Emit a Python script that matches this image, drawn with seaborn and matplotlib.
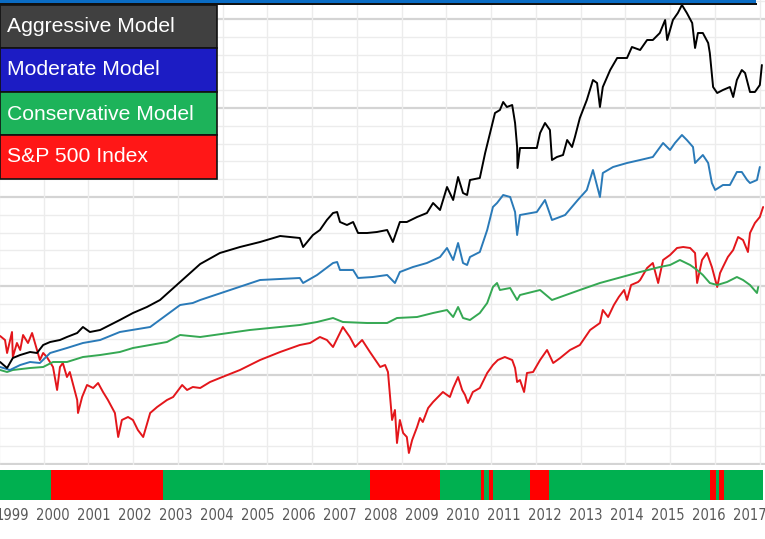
import numpy as np
import pandas as pd
import seaborn as sns
import matplotlib.pyplot as plt
from matplotlib.patches import Rectangle

W, H = 765, 539

# ---- data (decimal year, index level) ----
aggr_t = [1998.71, 1998.88, 1999.02, 1999.20, 1999.44, 1999.61, 1999.76, 1999.93, 2000.17, 2000.34,
          2000.59, 2000.73, 2000.90, 2001.15, 2001.39, 2001.63, 2001.95, 2002.29, 2002.61, 2003.10,
          2003.59, 2004.07, 2004.56, 2005.05, 2005.54, 2006.02, 2006.10, 2006.34, 2006.51, 2006.68,
          2006.83, 2006.93, 2007.00, 2007.17, 2007.32, 2007.44, 2007.66, 2007.90, 2008.15, 2008.29,
          2008.46, 2008.63, 2008.88, 2009.12, 2009.27, 2009.44, 2009.61, 2009.76, 2009.88, 2010.00,
          2010.10, 2010.17, 2010.41, 2010.54, 2010.66, 2010.78, 2010.90, 2010.98, 2011.07, 2011.20,
          2011.27, 2011.32, 2011.33, 2011.39, 2011.80, 2011.88, 2012.00, 2012.12, 2012.17, 2012.29,
          2012.44, 2012.54, 2012.66, 2012.73, 2012.85, 2013.02, 2013.17, 2013.27, 2013.34, 2013.41,
          2013.59, 2013.76, 2014.00, 2014.12, 2014.32, 2014.49, 2014.63, 2014.80, 2014.93, 2014.98,
          2015.12, 2015.24, 2015.34, 2015.46, 2015.59, 2015.66, 2015.73, 2015.85, 2015.98, 2016.02,
          2016.10, 2016.20, 2016.34, 2016.51, 2016.59, 2016.68, 2016.80, 2016.88, 2017.00, 2017.12,
          2017.24, 2017.29]
aggr_v = [103, 97, 107, 110, 113, 112, 120, 123, 125, 128,
          132, 138, 133, 135, 140, 145, 152, 158, 165, 183,
          201, 212, 218, 223, 229, 227, 218, 230, 235, 245,
          252, 253, 243, 240, 243, 232, 232, 233, 235, 223,
          243, 243, 248, 252, 262, 255, 278, 265, 288, 272,
          270, 285, 287, 312, 332, 352, 355, 363, 358, 360,
          342, 318, 297, 317, 317, 332, 342, 335, 305, 308,
          310, 325, 318, 328, 347, 365, 385, 382, 358, 378,
          395, 407, 407, 418, 415, 425, 425, 432, 445, 425,
          445, 452, 460, 452, 442, 417, 432, 432, 422, 412,
          378, 372, 375, 378, 368, 385, 395, 392, 373, 373,
          380, 400]

mod_t = [1998.71, 1998.95, 1999.20, 1999.44, 1999.68, 1999.93, 2000.34, 2000.73, 2001.15, 2001.63,
         2002.37, 2003.10, 2003.41, 2003.59, 2004.32, 2005.05, 2006.02, 2006.10, 2006.44, 2006.83,
         2006.93, 2007.00, 2007.32, 2007.44, 2007.80, 2008.15, 2008.34, 2008.46, 2008.78, 2009.12,
         2009.44, 2009.61, 2009.76, 2009.88, 2010.00, 2010.10, 2010.17, 2010.41, 2010.59, 2010.73,
         2010.83, 2010.98, 2011.15, 2011.27, 2011.32, 2011.39, 2011.80, 2012.00, 2012.17, 2012.49,
         2012.80, 2013.02, 2013.17, 2013.34, 2013.41, 2013.66, 2014.00, 2014.32, 2014.63, 2014.88,
         2015.05, 2015.17, 2015.34, 2015.46, 2015.61, 2015.66, 2015.85, 2015.98, 2016.07, 2016.15,
         2016.34, 2016.51, 2016.68, 2016.80, 2016.93, 2017.00, 2017.17, 2017.24]
mod_v = [98, 95, 100, 103, 102, 112, 117, 122, 125, 133,
         138, 160, 162, 165, 175, 185, 187, 182, 190, 202,
         203, 195, 195, 187, 188, 190, 182, 193, 198, 202,
         208, 217, 205, 222, 202, 200, 208, 213, 235, 258,
         262, 270, 268, 253, 230, 250, 253, 265, 245, 250,
         265, 275, 295, 268, 292, 298, 302, 305, 308, 322,
         315, 322, 330, 325, 318, 302, 310, 302, 282, 275,
         280, 280, 293, 293, 285, 282, 285, 298]

cons_t = [1998.71, 1998.88, 1999.02, 1999.44, 1999.76, 2000.00, 2000.34, 2000.73, 2001.15, 2001.63,
          2001.95, 2002.78, 2003.10, 2003.59, 2004.80, 2006.02, 2006.44, 2006.83, 2007.07, 2007.66,
          2008.15, 2008.39, 2008.88, 2009.27, 2009.61, 2009.76, 2009.88, 2010.00, 2010.17, 2010.41,
          2010.59, 2010.73, 2010.83, 2010.90, 2011.15, 2011.32, 2011.39, 2011.88, 2012.17, 2012.85,
          2013.34, 2014.32, 2014.80, 2015.05, 2015.29, 2015.54, 2015.71, 2015.85, 2016.02, 2016.20,
          2016.44, 2016.68, 2016.83, 2017.00, 2017.17, 2017.20]
cons_v = [95, 93, 95, 97, 98, 103, 103, 108, 110, 113,
          117, 123, 130, 128, 135, 140, 143, 147, 143, 142,
          142, 147, 148, 152, 155, 148, 158, 147, 145, 152,
          162, 178, 182, 175, 177, 165, 170, 175, 165, 175,
          182, 193, 198, 200, 205, 200, 195, 190, 182, 180,
          183, 188, 185, 180, 172, 178]

spx_t = [1998.71, 1998.83, 1998.88, 1999.00, 1999.02, 1999.12, 1999.20, 1999.27, 1999.39, 1999.49,
         1999.61, 1999.68, 1999.76, 1999.85, 2000.00, 2000.10, 2000.17, 2000.24, 2000.34, 2000.41,
         2000.59, 2000.61, 2000.71, 2000.83, 2000.98, 2001.10, 2001.22, 2001.34, 2001.51, 2001.59,
         2001.68, 2001.83, 2001.95, 2002.07, 2002.20, 2002.37, 2002.54, 2002.78, 2002.93, 2003.15,
         2003.27, 2003.41, 2003.59, 2003.83, 2004.07, 2004.56, 2005.05, 2005.54, 2006.02, 2006.27,
         2006.51, 2006.68, 2006.83, 2007.07, 2007.24, 2007.37, 2007.54, 2007.73, 2007.98, 2008.10,
         2008.17, 2008.27, 2008.34, 2008.39, 2008.46, 2008.54, 2008.63, 2008.68, 2008.76, 2008.88,
         2008.95, 2009.02, 2009.15, 2009.27, 2009.39, 2009.51, 2009.68, 2009.76, 2009.88, 2009.98,
         2010.05, 2010.12, 2010.24, 2010.41, 2010.59, 2010.73, 2010.85, 2011.02, 2011.20, 2011.27,
         2011.32, 2011.39, 2011.49, 2011.56, 2011.71, 2011.88, 2012.05, 2012.20, 2012.37, 2012.61,
         2012.85, 2013.10, 2013.34, 2013.41, 2013.54, 2013.68, 2013.80, 2013.93, 2014.00, 2014.10,
         2014.27, 2014.32, 2014.49, 2014.63, 2014.76, 2014.88, 2015.05, 2015.22, 2015.37, 2015.54,
         2015.66, 2015.71, 2015.83, 2015.95, 2016.07, 2016.20, 2016.27, 2016.34, 2016.46, 2016.59,
         2016.71, 2016.83, 2016.95, 2017.00, 2017.12, 2017.24, 2017.32]
spx_v = [129, 125, 112, 133, 108, 122, 115, 130, 122, 132,
         115, 105, 112, 108, 98, 75, 98, 102, 88, 93,
         65, 52, 68, 80, 77, 82, 73, 65, 52, 28,
         45, 48, 45, 35, 28, 52, 58, 65, 68, 80,
         75, 78, 77, 83, 87, 95, 105, 113, 120, 122,
         128, 125, 118, 138, 128, 118, 125, 113, 98, 100,
         93, 45, 55, 22, 45, 32, 28, 12, 25, 38,
         47, 43, 57, 63, 68, 73, 68, 77, 88, 75,
         70, 62, 73, 77, 92, 100, 105, 108, 105, 97,
         83, 85, 73, 92, 93, 105, 115, 102, 107, 115,
         120, 135, 142, 155, 148, 160, 168, 175, 165, 180,
         183, 185, 197, 202, 182, 205, 210, 217, 218, 217,
         212, 182, 205, 212, 198, 178, 192, 198, 208, 215,
         228, 225, 213, 232, 242, 248, 258]

# risk-off (red) periods in the regime strip
risk_off_start = [1999.95, 2007.73, 2010.44, 2010.63, 2011.63, 2016.02, 2016.24]
risk_off_end = [2002.68, 2009.44, 2010.51, 2010.73, 2012.10, 2016.17, 2016.37]
strip_start, strip_end = 1998.71, 2017.32

years = list(range(1999, 2018))
labels = ["Aggressive Model", "Moderate Model", "Conservative Model", "S&P 500 Index"]
line_colors = ["#000000", "#2a7ab8", "#35a853", "#e3161b"]
box_colors = ["#404040", "#1c1cc4", "#1db35a", "#ff1717"]

df = pd.concat([
    pd.DataFrame({"year": aggr_t, "level": aggr_v, "model": labels[0]}),
    pd.DataFrame({"year": mod_t, "level": mod_v, "model": labels[1]}),
    pd.DataFrame({"year": cons_t, "level": cons_v, "model": labels[2]}),
    pd.DataFrame({"year": spx_t, "level": spx_v, "model": labels[3]}),
], ignore_index=True)

sns.set_theme(style="white")
plt.rcParams["font.family"] = ["Liberation Sans", "DejaVu Sans"]

fig = plt.figure(figsize=(W / 100, H / 100), dpi=100)

# one year is ~41 px wide, Jan 1999 sits 12 px from the left edge
x0 = 1999 - 12 / 41
x1 = x0 + W / 41
plot_bottom = 465

# background grid (pixel-style coordinates)
axg = fig.add_axes([0, 1 - plot_bottom / H, 1, plot_bottom / H])
axg.set_xlim(0, W)
axg.set_ylim(plot_bottom, 0)
axg.axis("off")
for k in range(-1, 27):
    yy = 19 + 17.8 * k
    major = k % 5 == 0
    axg.axhline(yy, color="#d4d4d4" if major else "#ececec", lw=1.6 if major else 1.0, zorder=0)
for k in range(18):
    axg.axvline(-1 + 44.75 * k, color="#ececec", lw=1.0, zorder=0)

# main line axes
ax = fig.add_axes([0, 1 - plot_bottom / H, 1, plot_bottom / H])
ax.patch.set_alpha(0)
sns.lineplot(data=df, x="year", y="level", hue="model", palette=dict(zip(labels, line_colors)),
             hue_order=labels[::-1], estimator=None, sort=False, lw=1.4, legend=False, ax=ax)
ax.set_xlim(x0, x1)
ax.set_ylim(0, plot_bottom)
ax.axis("off")

# regime strip with year labels
axs = fig.add_axes([0, 1 - 500 / H, 1, 30 / H])
axs.axvspan(strip_start, strip_end, color="#00b050", lw=0)
for s, e in zip(risk_off_start, risk_off_end):
    axs.axvspan(s, e, color="#ff0000", lw=0)
axs.set_xlim(x0, x1)
axs.set_ylim(0, 1)
axs.set_yticks([])
axs.set_xticks(years)
axs.set_xticklabels([str(y) for y in years], family="DejaVu Sans", fontstretch="condensed",
                    fontsize=10.5, color="#595959")
axs.tick_params(axis="x", length=0, pad=6)
for sp in axs.spines.values():
    sp.set_visible(False)

# top title bar remnant
fig.patches.append(Rectangle((0, 1 - 3 / H), 756 / W, 3 / H, transform=fig.transFigure,
                             color="#0a6cc4", lw=0))
fig.patches.append(Rectangle((0, 1 - 5 / H), 757 / W, 2 / H, transform=fig.transFigure,
                             color="#111111", lw=0))

# legend boxes
tops = [5, 48, 92, 135]
bots = [48, 92, 135, 179]
for lab, col, t, b in zip(labels, box_colors, tops, bots):
    fig.patches.append(Rectangle((0, 1 - b / H), 217 / W, (b - t) / H, transform=fig.transFigure,
                                 facecolor=col, edgecolor="#111111", lw=1.2))
    fig.text(7 / W, 1 - (t + 27.5) / H, lab, color="white", fontsize=15.2, va="baseline", ha="left")

fig.savefig("out.png", dpi=100)
